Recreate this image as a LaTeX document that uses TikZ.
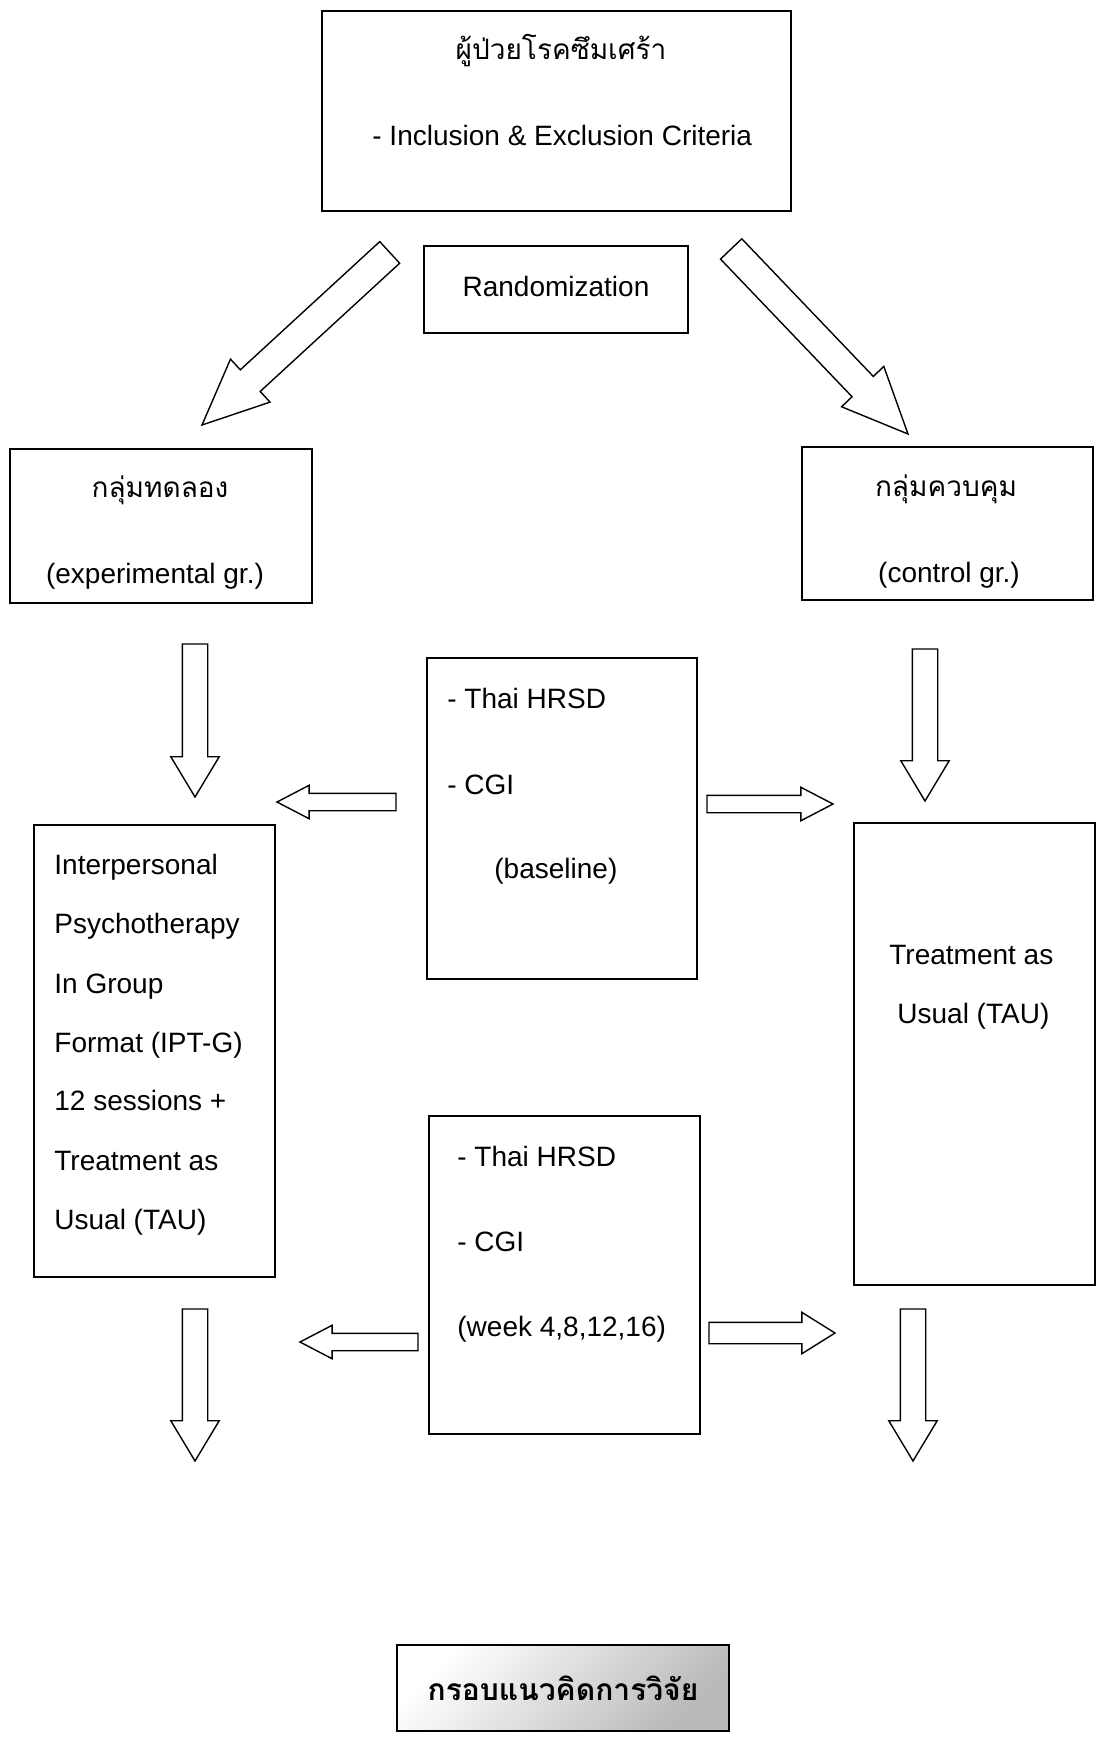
\documentclass[tikz,border=0pt]{standalone}
\usepackage{fontspec}
\setmainfont{Liberation Sans}
\newfontfamily\thaifont[Script=Thai]{Loma}
\usetikzlibrary{shapes.arrows}
\tikzstyle{box} = [rectangle, draw=black, line width=0.8pt, fill=white, inner sep=0pt]
\tikzstyle{txt} = [inner sep=0pt, font=\fontsize{14}{17}\selectfont]
\tikzstyle{thaitxt} = [inner sep=0pt, font=\thaifont\fontsize{14}{17}\selectfont]
\tikzstyle{fat} = [single arrow, draw=black, line width=0.7pt, fill=white, inner xsep=0pt, outer sep=0pt, minimum width=0pt, anchor=tip]
\tikzstyle{fatdown} = [fat, rotate=-90, inner ysep=6pt, single arrow head extend=5.75pt, single arrow tip angle=62]
\tikzstyle{fatside} = [fat, inner ysep=4pt, single arrow head extend=4pt, single arrow tip angle=55]
\tikzstyle{fatdiag} = [fat, inner ysep=7pt, single arrow head extend=7.25pt, single arrow tip angle=48]
\begin{document}
\begin{tikzpicture}[x=0.5pt, y=-0.5pt]
\useasboundingbox (0,0) rectangle (1096,1742);
% patients and randomization
\node (patients) at (556.5,111) [box, minimum width=234.5pt, minimum height=100pt] {};
\node[thaitxt, anchor=base] (patientsT) at (561,59) {ผู้ป่วยโรคซึมเศร้า};
\node[txt, anchor=base west] (criteria) at (372,145) {- Inclusion \& Exclusion Criteria};
\node (random) at (556,289.5) [box, txt, text height=6.5pt, text depth=0pt, minimum width=132pt, minimum height=43.5pt] {Randomization};
\node[fatdiag, rotate=222.6, minimum height=127.5pt] (toexp) at (202,425) {};
\node[fatdiag, rotate=-46.3, minimum height=128pt] (toctrl) at (908,434) {};
% the two groups
\node (expgr) at (161,526) [box, minimum width=151pt, minimum height=77pt] {};
\node[thaitxt, anchor=base] (expgrT) at (160,497) {กลุ่มทดลอง};
\node[txt, anchor=base] (expgrE) at (155,583) {(experimental gr.)};
\node (ctrlgr) at (947.5,523.5) [box, minimum width=145.5pt, minimum height=76.5pt] {};
\node[thaitxt, anchor=base] (ctrlgrT) at (946,496) {กลุ่มควบคุม};
\node[txt, anchor=base] (ctrlgrE) at (949,582) {(control gr.)};
\node[fatdown, minimum height=76.5pt] (expdown) at (195,797) {};
\node[fatdown, minimum height=76pt] (ctrldown) at (925,801) {};
% baseline measures
\node (pre) at (562,818.5) [box, minimum width=135pt, minimum height=160.5pt] {};
\node[txt, anchor=base west] (preH) at (447,708) {- Thai HRSD};
\node[txt, anchor=base west] (preC) at (447,794) {- CGI};
\node[txt, anchor=base west] (preB) at (494,878) {(baseline)};
\node[fatside, rotate=180, minimum height=59.5pt] (preleft) at (277,802) {};
\node[fatside, minimum height=63pt] (preright) at (833,804) {};
% treatments
\node (iptg) at (154.5,1051) [box, minimum width=120.5pt, minimum height=226pt] {};
\node[txt, anchor=base west] (ipt1) at (54,874) {Interpersonal};
\node[txt, anchor=base west] (ipt2) at (54,933) {Psychotherapy};
\node[txt, anchor=base west] (ipt3) at (54,993) {In Group};
\node[txt, anchor=base west] (ipt4) at (54,1052) {Format (IPT-G)};
\node[txt, anchor=base west] (ipt5) at (54,1110) {12 sessions +};
\node[txt, anchor=base west] (ipt6) at (54,1170) {Treatment as};
\node[txt, anchor=base west] (ipt7) at (54,1229) {Usual (TAU)};
\node (tau) at (974.5,1054) [box, minimum width=120.5pt, minimum height=231pt] {};
\node[txt, anchor=base west] (tau1) at (889,964) {Treatment as};
\node[txt, anchor=base west] (tau2) at (897,1023) {Usual (TAU)};
% follow-up measures
\node (follow) at (564.5,1275) [box, minimum width=135.5pt, minimum height=159pt] {};
\node[txt, anchor=base west] (followH) at (457,1166) {- Thai HRSD};
\node[txt, anchor=base west] (followC) at (457,1251) {- CGI};
\node[txt, anchor=base west] (followW) at (457,1336) {(week 4,8,12,16)};
\node[fatside, rotate=180, minimum height=59pt] (followleft) at (300,1342) {};
\node[fatside, minimum height=63pt, inner ysep=5pt, single arrow head extend=5pt, single arrow tip angle=64] (followright) at (835,1333) {};
\node[fatdown, minimum height=76pt] (iptdown) at (195,1461) {};
\node[fatdown, minimum height=76pt] (taudown) at (913,1461) {};
% caption
\node (title) at (563,1688) [box, minimum width=166pt, minimum height=43pt, top color=white, bottom color=gray!55, shading angle=45, font=\thaifont\bfseries\fontsize{15}{18}\selectfont] {กรอบแนวคิดการวิจัย};
\end{tikzpicture}
\end{document}
